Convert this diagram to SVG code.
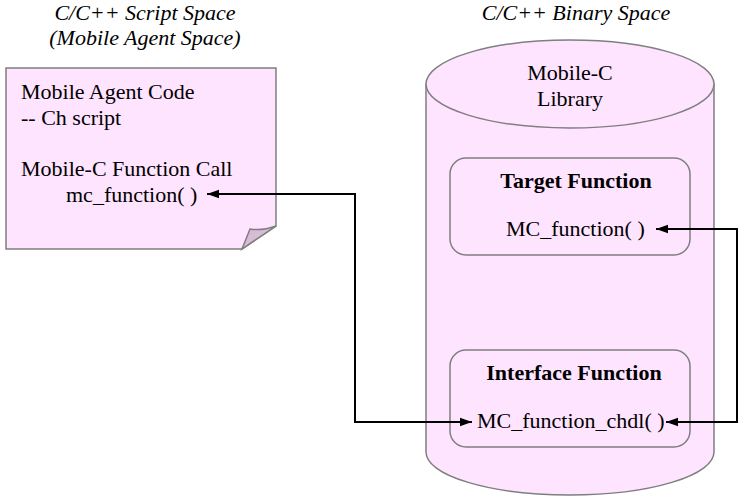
<svg xmlns="http://www.w3.org/2000/svg" width="744" height="500" viewBox="0 0 744 500">
<style>
text{font-family:'Times New Roman',Times,'Liberation Serif',Tinos,'Noto Serif','DejaVu Serif',serif;font-size:22px;fill:#000}
.i{font-style:italic}
.b{font-weight:bold}
.shape{fill:#ffe4ff;stroke:#7f7f7f;stroke-width:1.5}
.conn{fill:none;stroke:#000;stroke-width:2}
</style>
<defs>
<marker id="ah" viewBox="0 0 10 10" refX="10" refY="5" markerWidth="6" markerHeight="6" markerUnits="strokeWidth" orient="auto">
<path d="M0,1.5 L10,5 L0,8.5 Z" fill="#000"/>
</marker>
</defs>
<rect width="744" height="500" fill="#fff"/>
<g id="titles">
<text class="i" x="145" y="20" text-anchor="middle">C/C++ Script Space</text>
<text class="i" x="145" y="45" text-anchor="middle">(Mobile Agent Space)</text>
<text class="i" x="576" y="20" text-anchor="middle">C/C++ Binary Space</text>
</g>
<g id="note">
<path class="shape" d="M6,68 H276 V226 L242,249 H6 Z"/>
<path d="M242,249 L250,229 Q262,231 276,226 Z" fill="#d7bcd5" stroke="#7f7f7f" stroke-width="1.5"/>
<text x="21" y="99">Mobile Agent Code</text>
<text x="21" y="125">-- Ch script</text>
<text x="21" y="176">Mobile-C Function Call</text>
<text x="66" y="202">mc_function( )</text>
</g>
<g id="library">
<path class="shape" d="M426,84 V452 A144,43 0 0 0 714,452 V84"/>
<ellipse class="shape" cx="570" cy="84" rx="144" ry="44"/>
<text x="570" y="80" text-anchor="middle">Mobile-C</text>
<text x="570" y="106" text-anchor="middle">Library</text>
</g>
<g id="target">
<rect class="shape" x="450" y="158" width="240" height="97" rx="16"/>
<text class="b" x="576" y="188" text-anchor="middle">Target Function</text>
<text x="506" y="236">MC_function( )</text>
</g>
<g id="interface">
<rect class="shape" x="450" y="350" width="240" height="97" rx="16"/>
<text class="b" x="574" y="380" text-anchor="middle">Interface Function</text>
<text x="477" y="428">MC_function_chdl( )</text>
</g>
<g id="connectors">
<path class="conn" d="M472,422 H355 V194 H207" marker-end="url(#ah)"/>
<path class="conn" d="M355,422 H472" marker-end="url(#ah)"/>
<path class="conn" d="M666,422 H737 V229 H656" marker-end="url(#ah)"/>
<path class="conn" d="M737,229 V422 H666" marker-end="url(#ah)"/>
</g>
</svg>
